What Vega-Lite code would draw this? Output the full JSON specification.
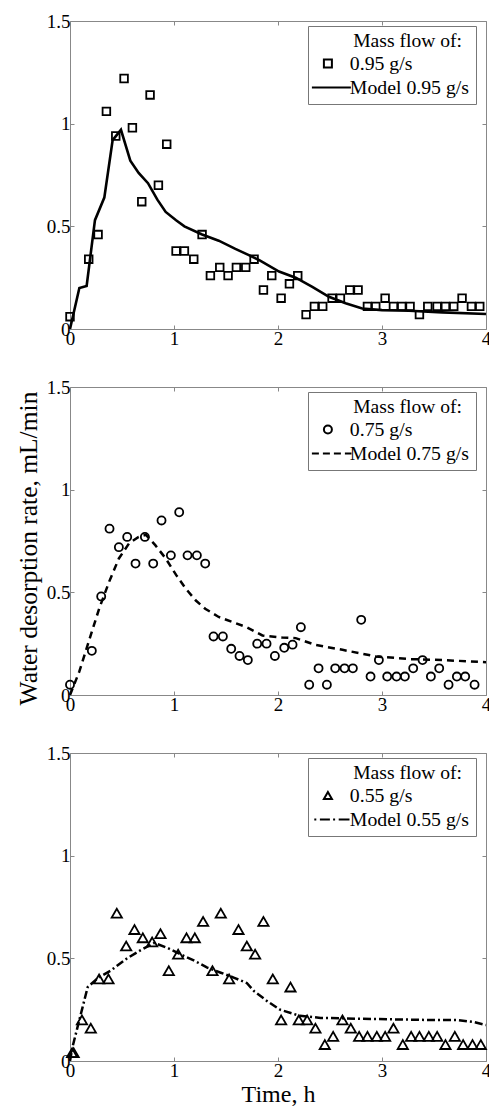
{
  "$schema": "https://vega.github.io/schema/vega-lite/v6.json",
  "background": "white",
  "padding": {"left": 15, "top": 11, "right": 4, "bottom": 0},
  "datasets": {
    "p1": [
      {"t":0.0,"r":0.06,"s":"0.95 g/s"},{"t":0.18,"r":0.34,"s":"0.95 g/s"},{"t":0.27,"r":0.46,"s":"0.95 g/s"},{"t":0.35,"r":1.06,"s":"0.95 g/s"},{"t":0.44,"r":0.94,"s":"0.95 g/s"},{"t":0.52,"r":1.22,"s":"0.95 g/s"},{"t":0.60,"r":0.98,"s":"0.95 g/s"},{"t":0.69,"r":0.62,"s":"0.95 g/s"},{"t":0.77,"r":1.14,"s":"0.95 g/s"},{"t":0.85,"r":0.70,"s":"0.95 g/s"},{"t":0.93,"r":0.90,"s":"0.95 g/s"},{"t":1.02,"r":0.38,"s":"0.95 g/s"},{"t":1.10,"r":0.38,"s":"0.95 g/s"},{"t":1.19,"r":0.34,"s":"0.95 g/s"},{"t":1.27,"r":0.46,"s":"0.95 g/s"},{"t":1.35,"r":0.26,"s":"0.95 g/s"},{"t":1.44,"r":0.30,"s":"0.95 g/s"},{"t":1.52,"r":0.26,"s":"0.95 g/s"},{"t":1.60,"r":0.30,"s":"0.95 g/s"},{"t":1.69,"r":0.30,"s":"0.95 g/s"},{"t":1.77,"r":0.34,"s":"0.95 g/s"},{"t":1.86,"r":0.19,"s":"0.95 g/s"},{"t":1.94,"r":0.26,"s":"0.95 g/s"},{"t":2.03,"r":0.15,"s":"0.95 g/s"},{"t":2.11,"r":0.22,"s":"0.95 g/s"},{"t":2.19,"r":0.26,"s":"0.95 g/s"},{"t":2.27,"r":0.07,"s":"0.95 g/s"},{"t":2.35,"r":0.11,"s":"0.95 g/s"},{"t":2.43,"r":0.11,"s":"0.95 g/s"},{"t":2.52,"r":0.15,"s":"0.95 g/s"},{"t":2.60,"r":0.15,"s":"0.95 g/s"},{"t":2.69,"r":0.19,"s":"0.95 g/s"},{"t":2.77,"r":0.19,"s":"0.95 g/s"},{"t":2.86,"r":0.11,"s":"0.95 g/s"},{"t":2.94,"r":0.11,"s":"0.95 g/s"},{"t":3.03,"r":0.15,"s":"0.95 g/s"},{"t":3.11,"r":0.11,"s":"0.95 g/s"},{"t":3.19,"r":0.11,"s":"0.95 g/s"},{"t":3.27,"r":0.11,"s":"0.95 g/s"},{"t":3.36,"r":0.07,"s":"0.95 g/s"},{"t":3.44,"r":0.11,"s":"0.95 g/s"},{"t":3.53,"r":0.11,"s":"0.95 g/s"},{"t":3.61,"r":0.11,"s":"0.95 g/s"},{"t":3.69,"r":0.11,"s":"0.95 g/s"},{"t":3.77,"r":0.15,"s":"0.95 g/s"},{"t":3.86,"r":0.11,"s":"0.95 g/s"},{"t":3.94,"r":0.11,"s":"0.95 g/s"}
    ],
    "m1": [
      {"t":0,"r":0},{"t":0.09,"r":0.20},{"t":0.16,"r":0.21},{"t":0.24,"r":0.53},{"t":0.33,"r":0.64},{"t":0.41,"r":0.92},{"t":0.49,"r":0.97},{"t":0.58,"r":0.82},{"t":0.66,"r":0.76},{"t":0.75,"r":0.71},{"t":0.84,"r":0.63},{"t":0.92,"r":0.57},{"t":1.02,"r":0.53},{"t":1.10,"r":0.50},{"t":1.27,"r":0.46},{"t":1.43,"r":0.43},{"t":1.59,"r":0.39},{"t":1.72,"r":0.36},{"t":1.82,"r":0.335},{"t":2.01,"r":0.28},{"t":2.17,"r":0.25},{"t":2.33,"r":0.205},{"t":2.49,"r":0.157},{"t":2.65,"r":0.125},{"t":2.81,"r":0.10},{"t":3.0,"r":0.092},{"t":3.26,"r":0.089},{"t":3.58,"r":0.081},{"t":4.0,"r":0.073}
    ],
    "p2": [
      {"t":0.0,"r":0.05,"s":"0.75 g/s"},{"t":0.21,"r":0.215,"s":"0.75 g/s"},{"t":0.30,"r":0.48,"s":"0.75 g/s"},{"t":0.38,"r":0.81,"s":"0.75 g/s"},{"t":0.47,"r":0.72,"s":"0.75 g/s"},{"t":0.55,"r":0.77,"s":"0.75 g/s"},{"t":0.63,"r":0.64,"s":"0.75 g/s"},{"t":0.72,"r":0.77,"s":"0.75 g/s"},{"t":0.80,"r":0.64,"s":"0.75 g/s"},{"t":0.88,"r":0.85,"s":"0.75 g/s"},{"t":0.97,"r":0.68,"s":"0.75 g/s"},{"t":1.05,"r":0.89,"s":"0.75 g/s"},{"t":1.13,"r":0.68,"s":"0.75 g/s"},{"t":1.22,"r":0.68,"s":"0.75 g/s"},{"t":1.30,"r":0.64,"s":"0.75 g/s"},{"t":1.38,"r":0.285,"s":"0.75 g/s"},{"t":1.47,"r":0.285,"s":"0.75 g/s"},{"t":1.55,"r":0.225,"s":"0.75 g/s"},{"t":1.63,"r":0.19,"s":"0.75 g/s"},{"t":1.71,"r":0.17,"s":"0.75 g/s"},{"t":1.80,"r":0.25,"s":"0.75 g/s"},{"t":1.89,"r":0.25,"s":"0.75 g/s"},{"t":1.97,"r":0.19,"s":"0.75 g/s"},{"t":2.06,"r":0.23,"s":"0.75 g/s"},{"t":2.14,"r":0.245,"s":"0.75 g/s"},{"t":2.22,"r":0.33,"s":"0.75 g/s"},{"t":2.30,"r":0.05,"s":"0.75 g/s"},{"t":2.39,"r":0.13,"s":"0.75 g/s"},{"t":2.47,"r":0.05,"s":"0.75 g/s"},{"t":2.55,"r":0.13,"s":"0.75 g/s"},{"t":2.64,"r":0.13,"s":"0.75 g/s"},{"t":2.72,"r":0.13,"s":"0.75 g/s"},{"t":2.80,"r":0.366,"s":"0.75 g/s"},{"t":2.89,"r":0.09,"s":"0.75 g/s"},{"t":2.97,"r":0.17,"s":"0.75 g/s"},{"t":3.05,"r":0.09,"s":"0.75 g/s"},{"t":3.14,"r":0.09,"s":"0.75 g/s"},{"t":3.22,"r":0.09,"s":"0.75 g/s"},{"t":3.30,"r":0.13,"s":"0.75 g/s"},{"t":3.39,"r":0.17,"s":"0.75 g/s"},{"t":3.47,"r":0.09,"s":"0.75 g/s"},{"t":3.55,"r":0.13,"s":"0.75 g/s"},{"t":3.64,"r":0.05,"s":"0.75 g/s"},{"t":3.72,"r":0.09,"s":"0.75 g/s"},{"t":3.80,"r":0.09,"s":"0.75 g/s"},{"t":3.89,"r":0.05,"s":"0.75 g/s"}
    ],
    "m2": [
      {"t":0,"r":0},{"t":0.09,"r":0.115},{"t":0.18,"r":0.26},{"t":0.28,"r":0.42},{"t":0.375,"r":0.55},{"t":0.47,"r":0.665},{"t":0.57,"r":0.74},{"t":0.66,"r":0.77},{"t":0.73,"r":0.78},{"t":0.82,"r":0.73},{"t":0.92,"r":0.665},{"t":1.02,"r":0.585},{"t":1.11,"r":0.52},{"t":1.21,"r":0.46},{"t":1.30,"r":0.42},{"t":1.43,"r":0.38},{"t":1.59,"r":0.35},{"t":1.70,"r":0.33},{"t":1.85,"r":0.29},{"t":2.04,"r":0.28},{"t":2.17,"r":0.277},{"t":2.36,"r":0.244},{"t":2.62,"r":0.22},{"t":2.94,"r":0.188},{"t":3.26,"r":0.175},{"t":3.58,"r":0.17},{"t":4.0,"r":0.16}
    ],
    "p3": [
      {"t":0.02,"r":0.04,"s":"0.55 g/s"},{"t":0.035,"r":0.04,"s":"0.55 g/s"},{"t":0.115,"r":0.20,"s":"0.55 g/s"},{"t":0.20,"r":0.16,"s":"0.55 g/s"},{"t":0.28,"r":0.40,"s":"0.55 g/s"},{"t":0.37,"r":0.40,"s":"0.55 g/s"},{"t":0.45,"r":0.72,"s":"0.55 g/s"},{"t":0.54,"r":0.56,"s":"0.55 g/s"},{"t":0.62,"r":0.64,"s":"0.55 g/s"},{"t":0.70,"r":0.60,"s":"0.55 g/s"},{"t":0.79,"r":0.58,"s":"0.55 g/s"},{"t":0.87,"r":0.62,"s":"0.55 g/s"},{"t":0.95,"r":0.44,"s":"0.55 g/s"},{"t":1.04,"r":0.52,"s":"0.55 g/s"},{"t":1.12,"r":0.60,"s":"0.55 g/s"},{"t":1.20,"r":0.60,"s":"0.55 g/s"},{"t":1.28,"r":0.68,"s":"0.55 g/s"},{"t":1.37,"r":0.44,"s":"0.55 g/s"},{"t":1.45,"r":0.72,"s":"0.55 g/s"},{"t":1.53,"r":0.40,"s":"0.55 g/s"},{"t":1.62,"r":0.64,"s":"0.55 g/s"},{"t":1.70,"r":0.56,"s":"0.55 g/s"},{"t":1.78,"r":0.52,"s":"0.55 g/s"},{"t":1.86,"r":0.68,"s":"0.55 g/s"},{"t":1.95,"r":0.40,"s":"0.55 g/s"},{"t":2.03,"r":0.20,"s":"0.55 g/s"},{"t":2.12,"r":0.36,"s":"0.55 g/s"},{"t":2.20,"r":0.20,"s":"0.55 g/s"},{"t":2.28,"r":0.20,"s":"0.55 g/s"},{"t":2.36,"r":0.16,"s":"0.55 g/s"},{"t":2.45,"r":0.08,"s":"0.55 g/s"},{"t":2.53,"r":0.12,"s":"0.55 g/s"},{"t":2.62,"r":0.20,"s":"0.55 g/s"},{"t":2.70,"r":0.16,"s":"0.55 g/s"},{"t":2.78,"r":0.12,"s":"0.55 g/s"},{"t":2.86,"r":0.12,"s":"0.55 g/s"},{"t":2.95,"r":0.12,"s":"0.55 g/s"},{"t":3.03,"r":0.12,"s":"0.55 g/s"},{"t":3.11,"r":0.16,"s":"0.55 g/s"},{"t":3.20,"r":0.08,"s":"0.55 g/s"},{"t":3.28,"r":0.12,"s":"0.55 g/s"},{"t":3.36,"r":0.12,"s":"0.55 g/s"},{"t":3.45,"r":0.12,"s":"0.55 g/s"},{"t":3.53,"r":0.12,"s":"0.55 g/s"},{"t":3.61,"r":0.08,"s":"0.55 g/s"},{"t":3.70,"r":0.12,"s":"0.55 g/s"},{"t":3.78,"r":0.08,"s":"0.55 g/s"},{"t":3.87,"r":0.08,"s":"0.55 g/s"},{"t":3.95,"r":0.08,"s":"0.55 g/s"}
    ],
    "m3": [
      {"t":0,"r":0},{"t":0.025,"r":0.07},{"t":0.07,"r":0.16},{"t":0.12,"r":0.26},{"t":0.17,"r":0.36},{"t":0.27,"r":0.405},{"t":0.39,"r":0.44},{"t":0.55,"r":0.50},{"t":0.68,"r":0.54},{"t":0.81,"r":0.575},{"t":0.94,"r":0.55},{"t":1.06,"r":0.52},{"t":1.19,"r":0.49},{"t":1.32,"r":0.455},{"t":1.45,"r":0.43},{"t":1.58,"r":0.405},{"t":1.70,"r":0.38},{"t":1.77,"r":0.34},{"t":1.90,"r":0.29},{"t":2.02,"r":0.25},{"t":2.21,"r":0.22},{"t":2.41,"r":0.21},{"t":2.76,"r":0.206},{"t":3.08,"r":0.203},{"t":3.43,"r":0.20},{"t":3.72,"r":0.20},{"t":3.88,"r":0.19},{"t":4.0,"r":0.175}
    ]
  },
  "spacing": 58,
  "bounds": "flush",
  "resolve": {"scale": {"shape": "independent"}, "legend": {"shape": "independent"}},
  "vconcat": [
    {
      "width": 416, "height": 308,
      "resolve": {"axis": {"x": "independent", "y": "independent"}},
      "layer": [
        {
          "data": {"name": "m1"},
          "mark": {"type": "line", "color": "black", "strokeWidth": 2.6},
          "encoding": {
            "x": {"field": "t", "type": "quantitative", "scale": {"domain": [0, 4], "nice": false}, "axis": {"orient": "bottom", "values": [0, 1, 2, 3, 4], "title": null}},
            "y": {"field": "r", "type": "quantitative", "scale": {"domain": [0, 1.5], "nice": false}, "axis": {"orient": "left", "values": [0, 0.5, 1, 1.5], "format": "~g", "title": null}}
          }
        },
        {
          "data": {"name": "p1"},
          "mark": {"type": "point", "filled": false, "color": "black", "strokeWidth": 1.8, "size": 58, "opacity": 1},
          "encoding": {
            "x": {"field": "t", "type": "quantitative", "axis": {"orient": "top", "values": [0, 1, 2, 3, 4], "labels": false, "title": null}},
            "y": {"field": "r", "type": "quantitative", "axis": {"orient": "right", "values": [0, 0.5, 1, 1.5], "labels": false, "title": null}},
            "shape": {
              "field": "s", "type": "nominal",
              "scale": {"domain": ["0.95 g/s", "Model 0.95 g/s"], "range": ["square", "M-4,0H5.75"]},
              "legend": {"title": "\u200b\u00a0\u00a0\u00a0\u00a0\u00a0\u00a0\u00a0\u00a0Mass flow of:"}
            }
          }
        }
      ]
    },
    {
      "width": 416, "height": 308,
      "resolve": {"axis": {"x": "independent", "y": "independent"}},
      "layer": [
        {
          "data": {"name": "m2"},
          "mark": {"type": "line", "color": "black", "strokeWidth": 2.5, "strokeDash": [7, 5]},
          "encoding": {
            "x": {"field": "t", "type": "quantitative", "scale": {"domain": [0, 4], "nice": false}, "axis": {"orient": "bottom", "values": [0, 1, 2, 3, 4], "title": null}},
            "y": {"field": "r", "type": "quantitative", "scale": {"domain": [0, 1.5], "nice": false}, "axis": {"orient": "left", "values": [0, 0.5, 1, 1.5], "format": "~g", "title": "Water desorption rate, mL/min", "titleFontSize": 25.5, "titlePadding": 5, "titleY": 161}}
          }
        },
        {
          "data": {"name": "p2"},
          "mark": {"type": "point", "filled": false, "color": "black", "strokeWidth": 1.8, "size": 65, "opacity": 1},
          "encoding": {
            "x": {"field": "t", "type": "quantitative", "axis": {"orient": "top", "values": [0, 1, 2, 3, 4], "labels": false, "title": null}},
            "y": {"field": "r", "type": "quantitative", "axis": {"orient": "right", "values": [0, 0.5, 1, 1.5], "labels": false, "title": null}},
            "shape": {
              "field": "s", "type": "nominal",
              "scale": {"domain": ["0.75 g/s", "Model 0.75 g/s"], "range": ["circle", "M-4,0H-2.25M-1.25,0H0.5M1.5,0H3.25M4.25,0H5.9"]},
              "legend": {"title": "\u200b\u00a0\u00a0\u00a0\u00a0\u00a0\u00a0\u00a0\u00a0Mass flow of:"}
            }
          }
        }
      ]
    },
    {
      "width": 416, "height": 308,
      "resolve": {"axis": {"x": "independent", "y": "independent"}},
      "layer": [
        {
          "data": {"name": "m3"},
          "mark": {"type": "line", "color": "black", "strokeWidth": 2.5, "strokeDash": [8, 3, 2, 3]},
          "encoding": {
            "x": {"field": "t", "type": "quantitative", "scale": {"domain": [0, 4], "nice": false}, "axis": {"orient": "bottom", "values": [0, 1, 2, 3, 4], "title": "Time, h", "titlePadding": 2}},
            "y": {"field": "r", "type": "quantitative", "scale": {"domain": [0, 1.5], "nice": false}, "axis": {"orient": "left", "values": [0, 0.5, 1, 1.5], "format": "~g", "title": null}}
          }
        },
        {
          "data": {"name": "p3"},
          "mark": {"type": "point", "filled": false, "color": "black", "strokeWidth": 1.8, "size": 105, "opacity": 1},
          "encoding": {
            "x": {"field": "t", "type": "quantitative", "axis": {"orient": "top", "values": [0, 1, 2, 3, 4], "labels": false, "title": null}},
            "y": {"field": "r", "type": "quantitative", "axis": {"orient": "right", "values": [0, 0.5, 1, 1.5], "labels": false, "title": null}},
            "shape": {
              "field": "s", "type": "nominal",
              "scale": {"domain": ["0.55 g/s", "Model 0.55 g/s"], "range": ["triangle-up", "M-3.4,0H-2.9M-2.0,0H0.5M1.3,0H1.8M2.7,0H5.4"]},
              "legend": {"title": "\u200b\u00a0\u00a0\u00a0\u00a0\u00a0\u00a0\u00a0\u00a0Mass flow of:"}
            }
          }
        }
      ]
    }
  ],
  "config": {
    "font": "Liberation Serif",
    "view": {"stroke": "#888", "strokeWidth": 1},
    "axis": {
      "domain": false, "grid": false, "ticks": true, "tickColor": "#888", "tickSize": -4, "tickWidth": 1,
      "labelFont": "Liberation Serif", "labelFontSize": 19, "labelColor": "black", "labelPadding": 4,
      "labelFlush": false, "labelOverlap": false,
      "titleFont": "Liberation Serif", "titleFontWeight": "normal", "titleColor": "black", "titleFontSize": 24, "titlePadding": 6
    },
    "legend": {
      "orient": "none", "legendX": 238, "legendY": 5,
      "titleFont": "Liberation Serif", "titleFontSize": 19.6, "titleFontWeight": "normal", "titleColor": "black",
      "labelFont": "Liberation Serif", "labelFontSize": 19.8, "labelColor": "black",
      "strokeColor": "#777", "fillColor": "white", "padding": 6,
      "symbolSize": 64, "symbolStrokeColor": "black", "symbolStrokeWidth": 2, "symbolOffset": 4, "labelOffset": 12,
      "rowPadding": 3, "titlePadding": 2
    }
  }
}
